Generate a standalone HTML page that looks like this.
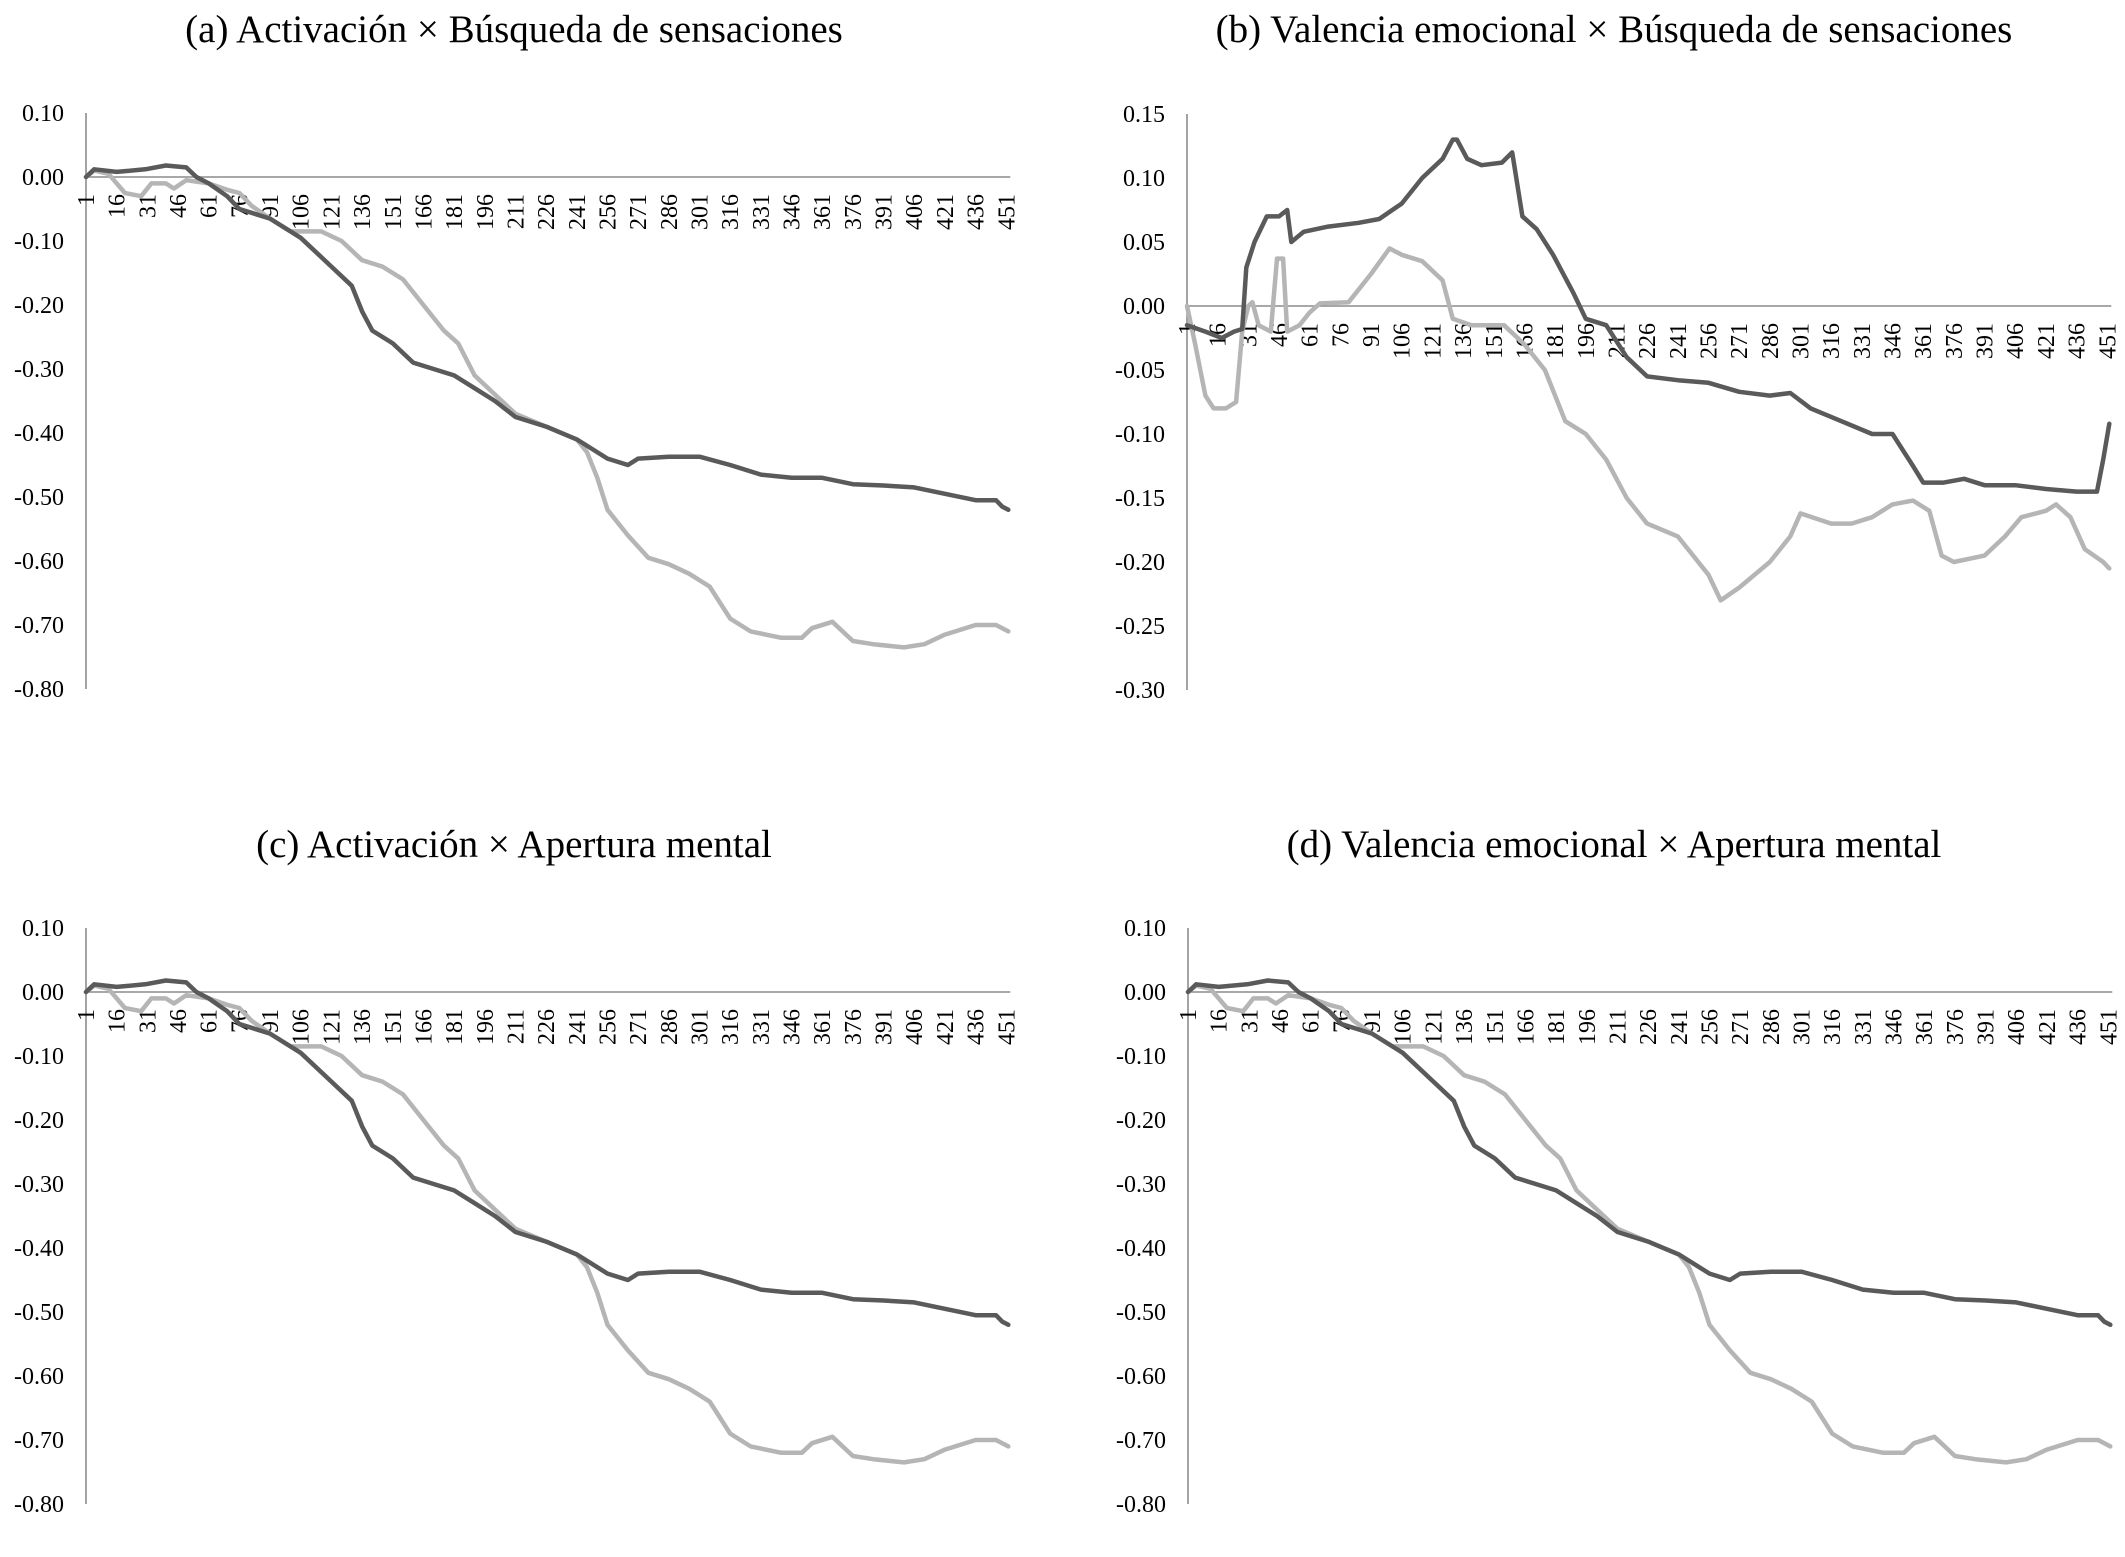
<!DOCTYPE html>
<html><head><meta charset="utf-8"><style>
html,body{margin:0;padding:0;background:#fff;}
svg{display:block;}
text{font-family:"Liberation Serif",serif;fill:#000;}
</style></head><body>
<svg id="fig" width="2125" height="1557" viewBox="0 0 2125 1557"></svg>
<script>
// Keyframe data: [category index, value]
const darkAIdx = [1,5,16,30,40,50,55,61,70,76,91,106,121,131,136,141,151,161,171,181,191,201,211,226,241,256,266,271,286,301,316,331,346,361,376,391,406,421,436,446,449,452];
const darkAVal = [0,0.012,0.008,0.012,0.018,0.015,0,-0.01,-0.03,-0.05,-0.065,-0.095,-0.14,-0.17,-0.21,-0.24,-0.26,-0.29,-0.30,-0.31,-0.33,-0.35,-0.375,-0.39,-0.41,-0.44,-0.45,-0.44,-0.437,-0.437,-0.45,-0.465,-0.47,-0.47,-0.48,-0.482,-0.485,-0.495,-0.505,-0.505,-0.515,-0.52];
const lightAIdx = [1,5,12,20,28,33,40,44,50,61,70,76,82,91,101,116,126,136,146,156,166,176,183,191,201,211,226,241,246,251,256,266,276,286,296,306,316,326,341,351,356,366,371,376,386,401,411,421,436,446,452];
const lightAVal = [0,0.01,0.005,-0.025,-0.03,-0.01,-0.01,-0.018,-0.005,-0.01,-0.02,-0.025,-0.045,-0.065,-0.085,-0.085,-0.10,-0.13,-0.14,-0.16,-0.20,-0.24,-0.26,-0.31,-0.34,-0.37,-0.39,-0.41,-0.43,-0.47,-0.52,-0.56,-0.595,-0.605,-0.62,-0.64,-0.69,-0.71,-0.72,-0.72,-0.705,-0.695,-0.71,-0.725,-0.73,-0.735,-0.73,-0.715,-0.70,-0.70,-0.71];
const darkBIdx = [1,10,18,24,28,30,34,40,46,50,52,58,70,85,95,106,116,126,131,133,138,145,155,160,165,172,180,190,196,206,216,226,241,256,271,286,296,306,321,336,346,356,361,371,381,391,406,421,436,446,449,452];
const darkBVal = [-0.015,-0.02,-0.025,-0.02,-0.018,0.03,0.05,0.07,0.07,0.075,0.05,0.058,0.062,0.065,0.068,0.08,0.10,0.115,0.13,0.13,0.115,0.11,0.112,0.12,0.07,0.06,0.04,0.01,-0.01,-0.015,-0.04,-0.055,-0.058,-0.06,-0.067,-0.07,-0.068,-0.08,-0.09,-0.10,-0.10,-0.125,-0.138,-0.138,-0.135,-0.14,-0.14,-0.143,-0.145,-0.145,-0.12,-0.092];
const lightBIdx = [1,5,10,14,20,25,28,31,33,36,42,45,48,50,56,61,66,80,91,100,106,116,126,131,140,156,166,176,186,196,206,216,226,241,256,262,271,286,296,301,316,326,336,346,356,364,370,376,391,401,409,421,426,433,440,449,452];
const lightBVal = [0,-0.03,-0.07,-0.08,-0.08,-0.075,-0.02,0,0.003,-0.015,-0.02,0.037,0.037,-0.02,-0.015,-0.005,0.002,0.003,0.025,0.045,0.04,0.035,0.02,-0.01,-0.015,-0.015,-0.03,-0.05,-0.09,-0.10,-0.12,-0.15,-0.17,-0.18,-0.21,-0.23,-0.22,-0.20,-0.18,-0.162,-0.17,-0.17,-0.165,-0.155,-0.152,-0.16,-0.195,-0.20,-0.195,-0.18,-0.165,-0.16,-0.155,-0.165,-0.19,-0.20,-0.205];
const yTicksA = [0.10,0.00,-0.10,-0.20,-0.30,-0.40,-0.50,-0.60,-0.70,-0.80];
const yTicksB = [0.15,0.10,0.05,0.00,-0.05,-0.10,-0.15,-0.20,-0.25,-0.30];
const xTickLabels = [1,16,31,46,61,76,91,106,121,136,151,166,181,196,211,226,241,256,271,286,301,316,331,346,361,376,391,406,421,436,451];
const nCats = 452;

const NS="http://www.w3.org/2000/svg";
const svg=document.getElementById('fig');
function mk(tag,attrs,parent){const e=document.createElementNS(NS,tag);for(const k in attrs)e.setAttribute(k,attrs[k]);(parent||svg).appendChild(e);return e;}

function panel(p){
  const g=mk('g',{});
  
  
  const step=2.045;
  const xs=i=>p.left+(i-1)*step;
  const right=xs(nCats)+2;
  const ys=v=>p.zeroY-v*p.pxPerUnit;
  const t=mk('text',{x:p.titleX,y:p.titleY,'text-anchor':'middle','font-size':39},g);
  t.textContent=p.title;
  
  
  const top=ys(p.yTicks[0]), bot=ys(p.yTicks[p.yTicks.length-1]);
  const ya=mk('line',{x1:p.left,x2:p.left,y1:top,y2:bot,stroke:'#8c8c8c','stroke-width':1.6},g);
  
  
  const xa=mk('line',{x1:p.left,x2:right,y1:p.zeroY,y2:p.zeroY,stroke:'#8c8c8c','stroke-width':1.6},g);
  
  
  p.yTicks.forEach(v=>{
    const tt=mk('text',{x:p.left-22,y:ys(v)+8,'text-anchor':'end','font-size':24},g);
    tt.textContent=v.toFixed(2);
    
    
  });
  xTickLabels.forEach(c=>{
    const x=xs(c)+8, y=p.zeroY+17;
    const tt=mk('text',{x:x,y:y,'text-anchor':'end','font-size':24,transform:`rotate(-90 ${x} ${y})`},g);
    tt.textContent=String(c);
    
    
  });
  [[p.lightI,p.lightV,'#b5b5b5','series-light'],[p.darkI,p.darkV,'#5a5a5a','series-dark']].forEach(s=>{
    const pts=s[0].map((c,k)=>xs(c).toFixed(1)+','+ys(s[1][k]).toFixed(1)).join(' ');
    const pl=mk('polyline',{points:pts,fill:'none',stroke:s[2],'stroke-width':4.5,'stroke-linejoin':'round','stroke-linecap':'round'},g);
    
    
  });
}
const A={left:86,zeroY:177,pxPerUnit:640,yTicks:yTicksA,darkI:darkAIdx,darkV:darkAVal,lightI:lightAIdx,lightV:lightAVal};
panel(Object.assign({},A,{name:'panel-a',title:'(a) Activación × Búsqueda de sensaciones',titleX:514,titleY:42}));
panel({name:'panel-b',title:'(b) Valencia emocional × Búsqueda de sensaciones',titleX:1614,titleY:42,left:1187,zeroY:306,pxPerUnit:1280,yTicks:yTicksB,darkI:darkBIdx,darkV:darkBVal,lightI:lightBIdx,lightV:lightBVal});
panel(Object.assign({},A,{name:'panel-c',title:'(c) Activación × Apertura mental',titleX:514,titleY:857,zeroY:992}));
panel(Object.assign({},A,{name:'panel-d',title:'(d) Valencia emocional × Apertura mental',titleX:1614,titleY:857,zeroY:992,left:1188}));
</script>
</body></html>
